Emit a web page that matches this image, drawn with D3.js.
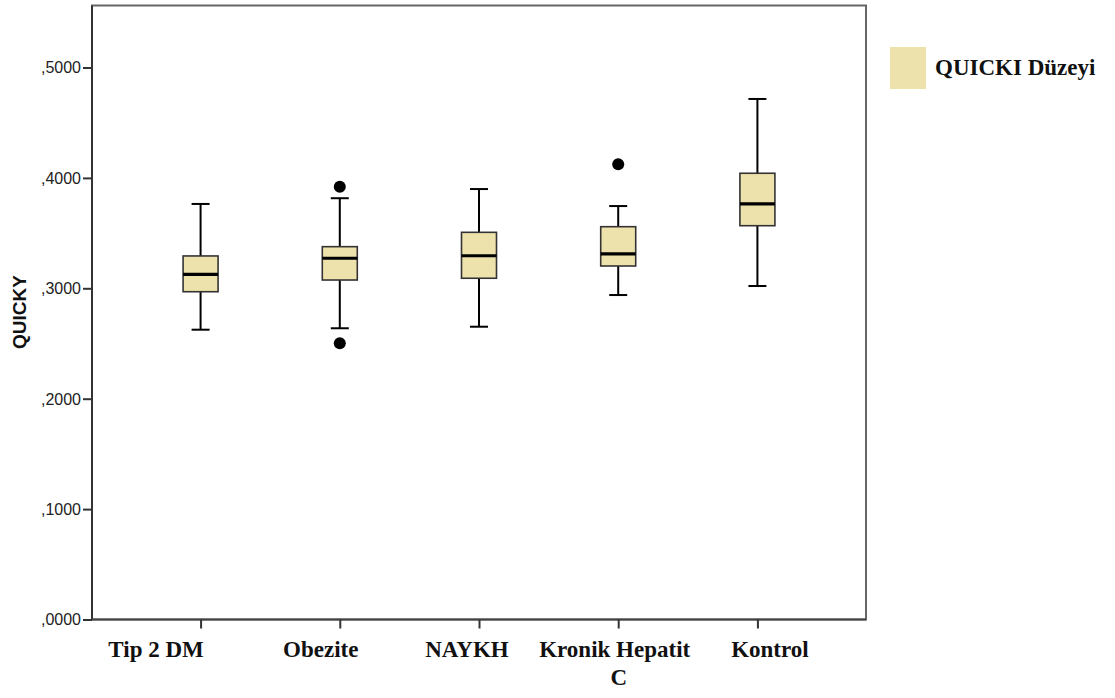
<!DOCTYPE html>
<html><head><meta charset="utf-8">
<script src="https://cdn.jsdelivr.net/npm/d3@7"></script>
<style>body{margin:0;background:#fff}</style>
</head><body>
<svg id="c" width="1115" height="698"></svg>
<script>
const categories = ["Tip 2 DM","Obezite","NAYKH","Kronik Hepatit C","Kontrol"];
const lowerWhisker = [0.2625,0.2638,0.2652,0.2939,0.3021];
const q1 = [0.2969,0.3075,0.3091,0.3202,0.3567];
const median = [0.3127,0.3272,0.3295,0.3311,0.3764];
const q3 = [0.3293,0.3377,0.3507,0.3558,0.4042];
const upperWhisker = [0.3764,0.3816,0.3899,0.3745,0.4715];
const outliers = [[],[0.3919,0.2502],[],[0.4123],[]];
const yTicks = [0,0.1,0.2,0.3,0.4,0.5];
const yTickLabels = [",0000",",1000",",2000",",3000",",4000",",5000"];
const yTitle = "QUICKY";
const legendLabel = "QUICKI Düzeyi";
const labelLines = [["Tip 2 DM"],["Obezite"],["NAYKH"],["Kronik Hepatit","C"],["Kontrol"]];
const labelShift = [-44.5,-19,-12,-3.5,12.5];

const svg = d3.select("#c");
const L=92, R=866, T=5.5, B=619.5;
const x = d3.scalePoint().domain(categories).range([L,R]).padding(0.78);
const y = d3.scaleLinear().domain([0,0.5]).range([B,67.5]);

// frame
svg.append("rect").attr("x",L).attr("y",T).attr("width",R-L).attr("height",B-T)
  .attr("fill","none").attr("stroke","#666").attr("stroke-width",2);

// y axis
const yAxis = d3.axisLeft(y).tickValues(yTicks).tickSize(9).tickFormat((d,i)=>yTickLabels[i]);
const ga = svg.append("g").attr("transform",`translate(${L},0)`).call(yAxis);
ga.select(".domain").attr("stroke","#333").attr("stroke-width",2).attr("d",`M0,${B}V${T}`);
ga.selectAll(".tick line").attr("stroke","#333").attr("stroke-width",2);
ga.selectAll(".tick text").attr("font-family","Arial, 'Liberation Sans', sans-serif")
  .attr("font-size",16).attr("fill","#222").attr("x",-11).attr("dy","0.34em");

// x axis
const xAxis = d3.axisBottom(x).tickSize(9).tickFormat("");
const gx = svg.append("g").attr("transform",`translate(0,${B})`).call(xAxis);
gx.select(".domain").attr("stroke","#444").attr("stroke-width",2).attr("d",`M${L},0H${R}`);
gx.selectAll(".tick line").attr("stroke","#333").attr("stroke-width",2).attr("y1",0).attr("y2",9);

// x labels
const xl = svg.append("g");
categories.forEach((c,i)=>{
  const t = xl.append("text").attr("x",x(c)+labelShift[i]).attr("y",657)
    .attr("text-anchor","middle").attr("font-family","'Liberation Serif','Times New Roman',serif")
    .attr("font-weight","bold").attr("font-size",23).attr("fill","#111");
  labelLines[i].forEach((ln,j)=>{
    t.append("tspan").attr("x",x(c)+labelShift[i]+(j>0?4:0)).attr("dy",j===0?0:28).text(ln);
  });
});

// y title
svg.append("text").attr("transform","translate(26,312) rotate(-90)")
  .attr("text-anchor","middle").attr("font-family","Arial, 'Liberation Sans', sans-serif")
  .attr("font-weight","bold").attr("font-size",19).attr("fill","#111").text(yTitle);

// boxes
const bw = 35, cw = 18;
const g = svg.append("g");
categories.forEach((c,i)=>{
  const cx = x(c);
  g.append("line").attr("x1",cx).attr("x2",cx).attr("y1",y(upperWhisker[i])).attr("y2",y(q3[i]))
    .attr("stroke","#000").attr("stroke-width",2);
  g.append("line").attr("x1",cx).attr("x2",cx).attr("y1",y(q1[i])).attr("y2",y(lowerWhisker[i]))
    .attr("stroke","#000").attr("stroke-width",2);
  [upperWhisker[i],lowerWhisker[i]].forEach(v=>{
    g.append("line").attr("x1",cx-cw/2).attr("x2",cx+cw/2).attr("y1",y(v)).attr("y2",y(v))
      .attr("stroke","#000").attr("stroke-width",2);
  });
  g.append("rect").attr("x",cx-bw/2).attr("y",y(q3[i])).attr("width",bw).attr("height",y(q1[i])-y(q3[i]))
    .attr("fill","#EEE2AC").attr("stroke","#333").attr("stroke-width",1.6);
  g.append("line").attr("x1",cx-bw/2).attr("x2",cx+bw/2).attr("y1",y(median[i])).attr("y2",y(median[i]))
    .attr("stroke","#000").attr("stroke-width",3.2);
  outliers[i].forEach(v=>{
    g.append("circle").attr("cx",cx).attr("cy",y(v)).attr("r",6).attr("fill","#000");
  });
});

// legend
svg.append("rect").attr("x",890).attr("y",47).attr("width",36).attr("height",42).attr("fill","#EEE2AC");
svg.append("text").attr("x",935).attr("y",75).attr("font-family","'Liberation Serif','Times New Roman',serif")
  .attr("font-weight","bold").attr("font-size",23).attr("fill","#111").text(legendLabel);
</script>
</body></html>
